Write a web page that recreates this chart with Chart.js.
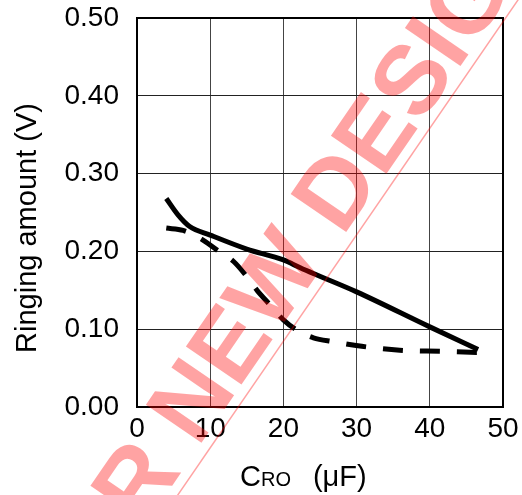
<!DOCTYPE html>
<html>
<head>
<meta charset="utf-8">
<script src="https://cdn.jsdelivr.net/npm/chart.js@4/dist/chart.umd.min.js"></script>
<style>
  html,body{margin:0;padding:0;background:#fff;}
  #c{display:block;}
</style>
</head>
<body>
<canvas id="c" width="522" height="495"></canvas>
<script>
const xTicks=[0,10,20,30,40,50];
const yTicks=[0,0.1,0.2,0.3,0.4,0.5];

const solidX=[4.0,5.6,7.2,10.0,15.0,20.0,22.3,24.5,30.0,40.0,46.6];
const solidY=[0.268,0.247,0.232,0.221,0.203,0.189,0.179,0.170,0.148,0.103,0.074];

const dashX=[4.0,6.3,8.6,10.9,13.2,14.8,16.4,18.2,20.0,21.8,24.1,26.8,30.7,35.9,41.4,46.9];
const dashY=[0.230,0.227,0.217,0.202,0.187,0.170,0.150,0.131,0.112,0.099,0.089,0.084,0.078,0.073,0.0715,0.070];

const yTitle='Ringing amount (V)';
const watermark='NOT RECOMMENDED FOR NEW DESIGN';

const pts=(xs,ys)=>xs.map((x,i)=>({x:x,y:ys[i]}));
const FONT="'Liberation Sans', Arial, sans-serif";

const titlesPlugin={
    id:'titles',
    afterDraw(chart){
        const ctx=chart.ctx;
        ctx.save();
        ctx.fillStyle='#000';
        ctx.textBaseline='alphabetic';
        ctx.textAlign='left';
        // x title: C + small RO + (µF)
        let x=240;const y=486;
        ctx.font="29px "+FONT;
        ctx.fillText('C',x,y);x+=ctx.measureText('C').width;
        ctx.font="20px "+FONT;
        ctx.fillText('RO',x,y);x+=ctx.measureText('RO').width+22;
        ctx.font="29px "+FONT;
        ctx.fillText('(μF)',x,y);
        // y title
        ctx.translate(36,228);
        ctx.rotate(-Math.PI/2);
        ctx.textAlign='center';
        ctx.font="29px "+FONT;
        ctx.fillText(yTitle,0,0);
        ctx.restore();
    }
};

const watermarkPlugin={
    id:'watermark',
    afterDraw(chart){
        const ctx=chart.ctx;
        ctx.save();
        ctx.translate(342.6,237.5);
        ctx.rotate(-55.5*Math.PI/180);
        ctx.font="bold 98px "+FONT;
        ctx.fillStyle='rgba(255,0,0,0.36)';
        ctx.strokeStyle='rgba(255,0,0,0.36)';
        ctx.textBaseline='alphabetic';
        const pre=ctx.measureText('NOT RECOMMENDED FOR NEW ').width;
        ctx.fillText(watermark,-pre,0);
        ctx.lineWidth=1.5;
        ctx.beginPath();ctx.moveTo(-900,10);ctx.lineTo(900,10);ctx.stroke();
        ctx.restore();
    }
};

new Chart(document.getElementById('c').getContext('2d'),{
    type:'scatter',
    data:{
        datasets:[{
            data:pts(solidX,solidY),
            showLine:true,
            borderColor:'#000',
            borderWidth:5,
            pointRadius:0,
            cubicInterpolationMode:'monotone',
            borderCapStyle:'butt'
        },{
            data:pts(dashX,dashY),
            showLine:true,
            borderColor:'#000',
            borderWidth:5,
            borderDash:[20,17],
            pointRadius:0,
            cubicInterpolationMode:'monotone',
            borderCapStyle:'butt'
        }]
    },
    options:{
        responsive:false,
        animation:false,
        events:[],
        layout:{padding:{top:18,right:19,left:0,bottom:0}},
        plugins:{legend:{display:false},tooltip:{enabled:false}},
        scales:{
            x:{
                type:'linear',min:0,max:50,
                afterBuildTicks:s=>{s.ticks=xTicks.map(v=>({value:v}));},
                afterFit:s=>{s.height=88;s.paddingLeft=0;s.paddingRight=0;},
                grid:{color:'#444',lineWidth:1,drawTicks:false},
                border:{color:'#000',width:2},
                ticks:{color:'#000',font:{size:28,family:FONT},padding:5,maxRotation:0}
            },
            y:{
                type:'linear',min:0,max:0.5,
                afterBuildTicks:s=>{s.ticks=yTicks.map(v=>({value:v}));},
                afterFit:s=>{s.width=137;s.paddingTop=0;s.paddingBottom=0;},
                grid:{color:'#222',lineWidth:1,drawTicks:false},
                border:{color:'#000',width:2},
                ticks:{color:'#000',font:{size:28,family:FONT},padding:18,callback:v=>v.toFixed(2)}
            }
        }
    },
    plugins:[titlesPlugin,watermarkPlugin,{
        id:'frame',
        afterDatasetsDraw(chart){
            const {ctx,chartArea:a}=chart;
            ctx.save();ctx.strokeStyle='#000';ctx.lineWidth=2;
            ctx.strokeRect(a.left,a.top,a.right-a.left,a.bottom-a.top);
            ctx.restore();
        }
    }]
});
</script>
</body>
</html>
